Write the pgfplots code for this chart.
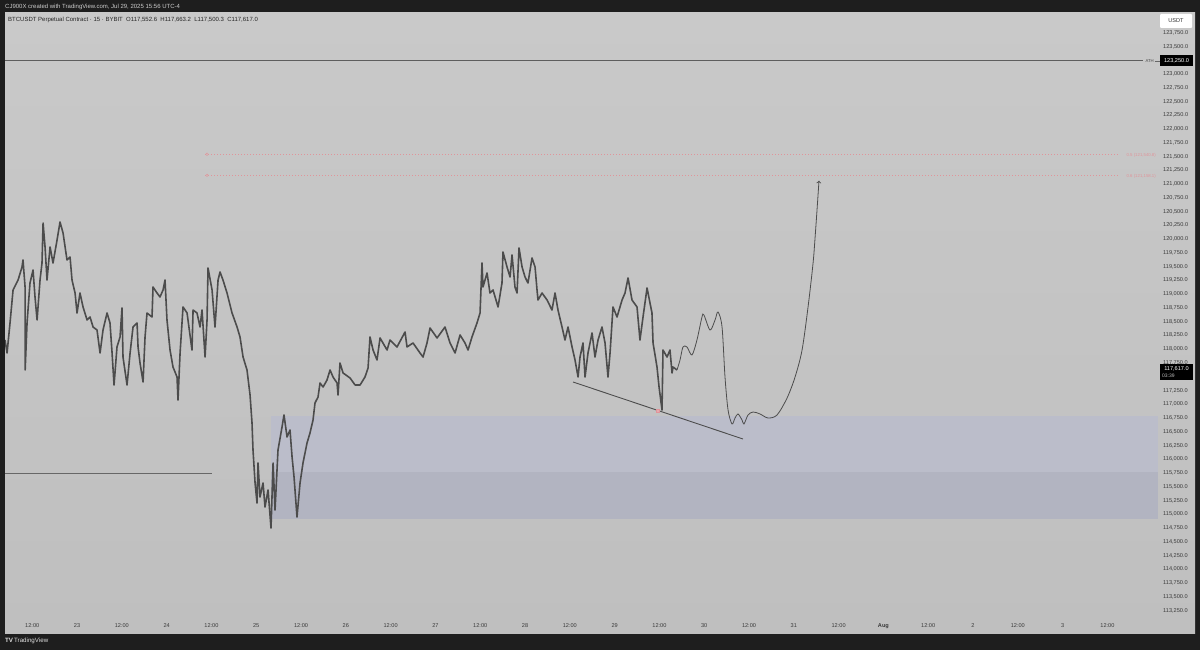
\documentclass[border=0pt]{standalone}
\usepackage{pgfplots}
\pgfplotsset{compat=1.18}
\usepackage{fontspec}
\setmainfont{Liberation Sans}
\definecolor{frame}{HTML}{1E1E1E}
\definecolor{paneTop}{HTML}{C9C9C9}
\definecolor{paneBot}{HTML}{BFBFBF}
\definecolor{pricecol}{HTML}{4C4C4C}
\definecolor{boxA}{HTML}{BBBDCA}
\definecolor{boxB}{HTML}{B2B4C1}
\definecolor{fibcol}{HTML}{E0949A}
\definecolor{ticktxt}{HTML}{3A3A3A}
\begin{document}
\begin{tikzpicture}[x=1pt,y=1pt]
% screenshot frame and chart pane
\fill[frame] (0pt,0pt) rectangle (1200pt,650pt);
\shade[top color=paneTop,bottom color=paneBot] (5pt,16pt) rectangle (1195pt,637pt);
\node[anchor=west,inner sep=0,text=white!80!black,font=\fontsize{6}{7}\selectfont] at (5pt,643pt)
  {CJ900X created with TradingView.com, Jul 29, 2025 15:56 UTC-4};
\node[anchor=west,inner sep=0,text=white!88!black,font=\fontsize{6.2}{7}\selectfont] at (5pt,9pt)
  {\textbf{TV}\,TradingView};

\begin{axis}[
    at={(5pt,33pt)}, anchor=south west,
    scale only axis,
    width=1153pt, height=604pt,
    xmin=22.196, xmax=35.065,
    ymin=113133, ymax=124108,
    axis line style={draw=none},
    major tick length=0pt,
    xtick={22.5,23,...,34.5},
    xticklabels={12:00,23,12:00,24,12:00,25,12:00,26,12:00,27,12:00,28,12:00,29,12:00,30,12:00,31,12:00,\textbf{Aug},12:00,2,12:00,3,12:00},
    xticklabel style={font=\fontsize{5.6}{6}\selectfont,text=ticktxt,anchor=base,inner sep=0pt,yshift=-10.5pt},
    % 117,500 and 123,250 sit under the price badges
    ytick={113250,113500,113750,114000,114250,114500,114750,115000,115250,115500,115750,116000,116250,116500,116750,117000,117250,117750,118000,118250,118500,118750,119000,119250,119500,119750,120000,120250,120500,120750,121000,121250,121500,121750,122000,122250,122500,122750,123000,123500,123750},
    yticklabel pos=right,
    scaled y ticks=false,
    yticklabel style={font=\fontsize{5.6}{6}\selectfont,text=ticktxt,anchor=west,inner sep=0pt,xshift=5pt,
      /pgf/number format/.cd,fixed,fixed zerofill,precision=1,1000 sep={,}},
    /pgf/number format/assume math mode=true,
]
% demand zone
\fill[boxA] (axis cs:25.165,115760) rectangle (axis cs:35.065,116790);
\fill[boxB] (axis cs:25.165,114910) rectangle (axis cs:35.065,115760);

% ATH line
\addplot[pricecol!90,line width=0.9pt] coordinates {(22.196,123250) (34.897,123250)};
% fib levels
\addplot[fibcol,line width=0.6pt,dash pattern=on 1.2pt off 1.8pt] coordinates {(24.429,121540.8) (34.618,121540.8)};
\addplot[fibcol,line width=0.6pt,dash pattern=on 1.2pt off 1.8pt] coordinates {(24.429,121158.1) (34.618,121158.1)};
\addplot[only marks,mark=o,mark size=1.3pt,fibcol] coordinates {(24.451,121540.8) (24.451,121158.1)};
% old range low
\addplot[pricecol!85,line width=0.9pt] coordinates {(22.196,115750) (24.507,115750)};
% trendline
\addplot[pricecol,line width=0.9pt] coordinates {(28.536,117403) (30.433,116367)};

% BTCUSDT 15m price
\addplot[pricecol,line width=1.6pt,line join=round] coordinates {
(22.196,118166) (22.219,117930) (22.252,118475) (22.286,119075) (22.342,119256)
(22.386,119493) (22.397,119620) (22.420,119129) (22.421,117621) (22.442,118475)
(22.475,119202) (22.509,119438) (22.531,118948) (22.554,118530) (22.587,119256)
(22.609,119565) (22.621,120292) (22.643,119856) (22.665,119256) (22.699,119856)
(22.732,119565) (22.777,119983) (22.810,120310) (22.844,120110) (22.888,119620)
(22.922,119674) (22.944,119256) (22.978,119020) (23.000,118657) (23.033,119020)
(23.067,118766) (23.112,118530) (23.145,118584) (23.179,118402) (23.223,118348)
(23.257,117930) (23.290,118348) (23.335,118657) (23.368,118475) (23.391,117930)
(23.413,117349) (23.446,118039) (23.480,118221) (23.502,118748) (23.513,117857)
(23.558,117349) (23.592,117930) (23.625,118402) (23.670,118475) (23.681,118039)
(23.703,117748) (23.737,117403) (23.759,118221) (23.781,118657) (23.837,118584)
(23.848,119129) (23.893,119020) (23.926,118948) (23.960,119075) (23.982,119256)
(24.004,118530) (24.038,117984) (24.071,117676) (24.116,117494) (24.127,117076)
(24.150,117930) (24.183,118766) (24.228,118657) (24.283,117984) (24.295,118711)
(24.339,118657) (24.373,118402) (24.395,118711) (24.429,117857) (24.451,118530)
(24.462,119474) (24.507,119075) (24.540,118402) (24.574,119256) (24.596,119402)
(24.629,119256) (24.674,119020) (24.730,118657) (24.786,118402) (24.819,118221)
(24.853,117857) (24.897,117621) (24.931,117167) (24.953,116658) (24.964,116167)
(24.987,115568) (25.009,115204) (25.020,115931) (25.042,115313) (25.076,115568)
(25.098,115132) (25.132,115441) (25.165,114750) (25.188,115931) (25.210,115077)
(25.243,116167) (25.288,116586) (25.310,116804) (25.344,116404) (25.377,116531)
(25.400,116040) (25.422,115677) (25.455,114950) (25.489,115568) (25.522,115931)
(25.567,116295) (25.600,116476) (25.634,116713) (25.656,117022) (25.690,117131)
(25.712,117385) (25.746,117312) (25.790,117439) (25.824,117621) (25.857,117494)
(25.902,117385) (25.913,117167) (25.935,117748) (25.969,117567) (26.047,117476)
(26.103,117349) (26.159,117349) (26.214,117494) (26.248,117657) (26.270,118221)
(26.304,117984) (26.348,117803) (26.382,118203) (26.460,117984) (26.493,118166)
(26.571,118039) (26.661,118312) (26.683,118039) (26.750,118112) (26.828,117930)
(26.862,117857) (26.906,118112) (26.940,118384) (27.018,118203) (27.107,118402)
(27.163,118112) (27.219,117930) (27.275,118257) (27.330,118112) (27.364,117984)
(27.408,118221) (27.464,118475) (27.498,118657) (27.520,119565) (27.531,119129)
(27.576,119384) (27.609,119020) (27.643,119075) (27.699,118766) (27.743,119202)
(27.754,119765) (27.799,119493) (27.833,119311) (27.855,119711) (27.888,119129)
(27.911,119020) (27.933,119838) (27.967,119493) (28.000,119311) (28.033,119202)
(28.078,119656) (28.112,119493) (28.134,119075) (28.145,118893) (28.190,119020)
(28.246,118893) (28.301,118711) (28.335,119020) (28.368,118711) (28.413,118402)
(28.446,118166) (28.480,118402) (28.525,118039) (28.558,117803) (28.592,117494)
(28.614,117857) (28.647,118112) (28.670,117494) (28.703,117930) (28.748,118294)
(28.781,117857) (28.815,118166) (28.859,118402) (28.893,118112) (28.926,117494)
(28.949,117930) (28.982,118766) (29.027,118584) (29.083,118893) (29.116,119020)
(29.150,119293) (29.194,118893) (29.250,118766) (29.283,118166) (29.317,118584)
(29.362,119111) (29.417,118657) (29.429,118112) (29.473,117676) (29.496,117312)
(29.529,116894) (29.540,117984) (29.585,117857) (29.618,117984) (29.641,117567)
(29.652,117676) (29.696,117621)
};

% projected path
\addplot[pricecol,line width=0.8pt,smooth,tension=0.5,-{>[scale=0.8]}] coordinates {
(29.696,117621) (29.730,117803) (29.763,118039) (29.808,118039) (29.863,117894)
(29.919,118166) (29.975,118584) (29.997,118620) (30.065,118348) (30.121,118530)
(30.154,118675) (30.199,118402) (30.232,117494) (30.266,116894) (30.310,116640)
(30.344,116749) (30.377,116822) (30.422,116713) (30.444,116640) (30.489,116803)
(30.545,116858) (30.623,116822) (30.712,116749) (30.813,116804) (30.925,117113)
(31.014,117494) (31.092,117984) (31.159,118766) (31.215,119565) (31.237,120019)
(31.259,120528) (31.281,121060)
};
% touch marker on the trendline
\addplot[only marks,mark=square*,mark size=1.4pt,mark options={fill=fibcol!80,draw=fibcol}] coordinates {(29.484,116876)};
\end{axis}

% header inside the pane
\node[anchor=west,inner sep=0,text=black!85,font=\fontsize{6}{7}\selectfont] at (8pt,630pt)
  {BTCUSDT Perpetual Contract · 15 · BYBIT\ \ O117,552.6\ \ H117,663.2\ \ L117,500.3\ \ C117,617.0};
% fib level labels
\node[anchor=east,inner sep=0,text=fibcol,font=\fontsize{4.3}{5}\selectfont] at (1156pt,495pt) {0.5 (121,540.8)};
\node[anchor=east,inner sep=0,text=fibcol,font=\fontsize{4.3}{5}\selectfont] at (1156pt,474pt) {0.6 (121,158.1)};
% price scale badges
\fill[white,rounded corners=1pt] (1160pt,622pt) rectangle (1192pt,636pt);
\node[inner sep=0,text=black!80,font=\fontsize{5.6}{6}\selectfont] at (1176pt,629pt) {USDT};
\node[anchor=east,inner sep=0,text=black!70,font=\fontsize{4.3}{5}\selectfont] at (1154pt,589pt) {ATH};
\draw[black!60,line width=0.6pt] (1154.5pt,589pt) -- (1160pt,589pt);
\fill[black] (1160pt,584pt) rectangle (1193pt,594.5pt);
\node[inner sep=0,text=white,font=\fontsize{5.6}{6}\selectfont] at (1176.5pt,589pt) {123,250.0};
\fill[black] (1160pt,269.5pt) rectangle (1193pt,285.5pt);
\node[inner sep=0,text=white,font=\fontsize{5.6}{6}\selectfont] at (1176.5pt,281pt) {117,617.0};
\node[inner sep=0,text=white!75!black,font=\fontsize{5}{6}\selectfont,anchor=west] at (1162pt,274pt) {03:39};
\end{tikzpicture}
\end{document}
